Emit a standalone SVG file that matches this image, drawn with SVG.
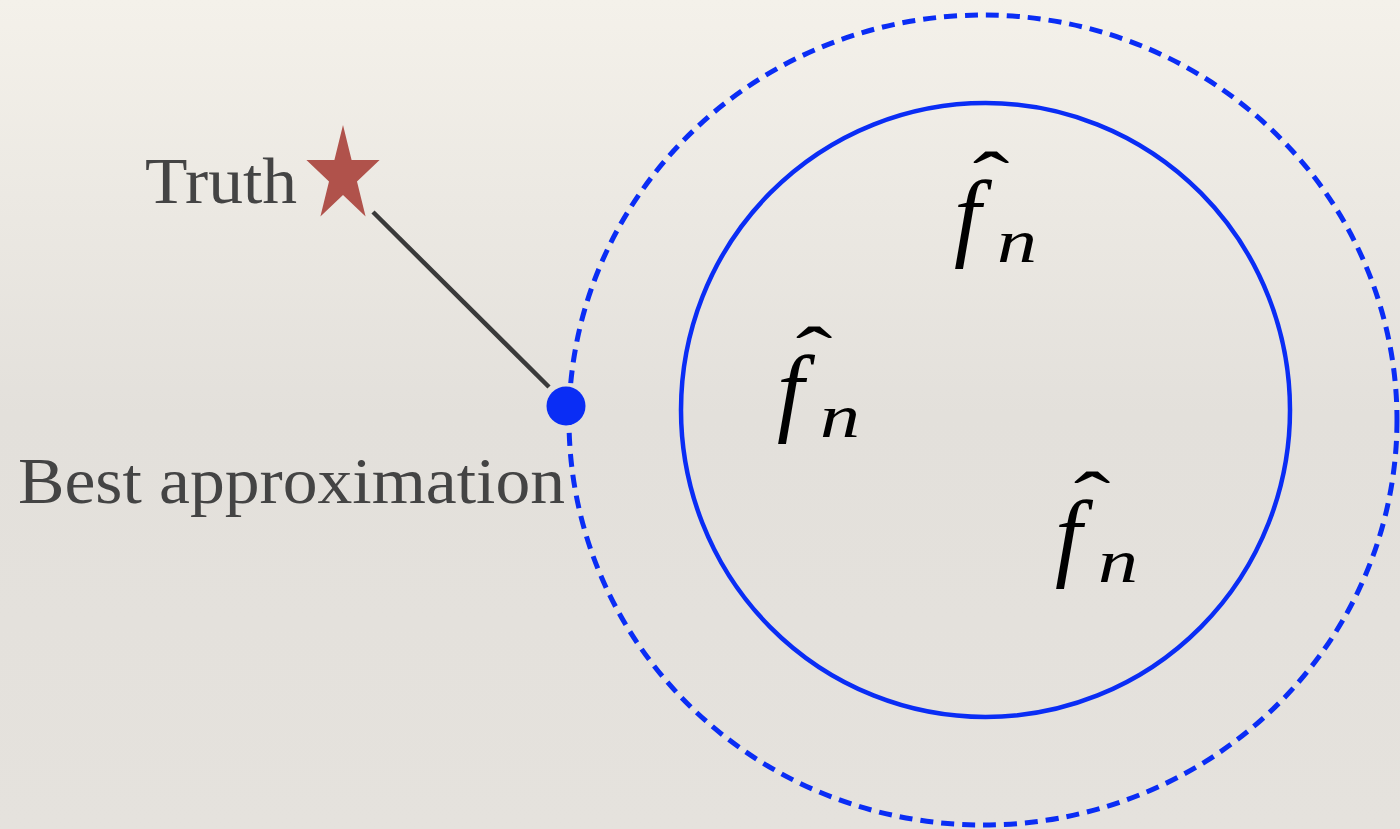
<svg xmlns="http://www.w3.org/2000/svg" width="1400" height="829" viewBox="0 0 1400 829">
<defs>
<linearGradient id="bg" x1="0" y1="0" x2="0" y2="1">
<stop offset="0" stop-color="#f4f1ea"/>
<stop offset="0.5" stop-color="#e3e0db"/>
<stop offset="1" stop-color="#e5e2dd"/>
</linearGradient>
<g id="fhat">
<text class="f" x="2" y="-14">f</text>
<text class="n" x="45" y="0" textLength="40" lengthAdjust="spacingAndGlyphs">n</text>
<text class="hat" transform="translate(39,-57) scale(1.45,1)">ˆ</text>
</g>
</defs>
<style>
.lbl{font-family:"Liberation Serif",serif;font-size:66px;fill:#444444}
.f{font-family:"Liberation Serif",serif;font-style:italic;font-size:97px;fill:#000}
.n{font-family:"Liberation Serif",serif;font-style:italic;font-size:62px;fill:#000}
.hat{font-family:"Liberation Serif",serif;font-size:76px;fill:#000;text-anchor:middle}
.ring{fill:none;stroke:#0a2df5}
</style>
<rect width="1400" height="829" fill="url(#bg)"/>
<g id="outer-set"><ellipse class="ring" cx="983" cy="420" rx="414" ry="405" stroke-width="5" stroke-dasharray="13 8"/></g>
<g id="inner-set"><ellipse class="ring" cx="985.5" cy="410" rx="304.5" ry="307" stroke-width="4.5"/></g>
<g id="connectors">
<line x1="373" y1="212" x2="549" y2="387" stroke="#3a3a3a" stroke-width="4.5"/>
</g>
<g id="truth">
<polygon points="343,125 351.6,160 379.6,160 357,181.6 365.6,216.5 343,195 320.4,216.5 329,181.6 306.4,160 334.4,160" fill="#b0524b"/>
<text class="lbl" x="145" y="203" textLength="152" lengthAdjust="spacingAndGlyphs">Truth</text>
</g>
<g id="best">
<circle cx="566" cy="406" r="19.5" fill="#0a2df5"/>
<text class="lbl" x="18" y="503" textLength="547" lengthAdjust="spacingAndGlyphs">Best approximation</text>
</g>
<g id="fhat1"><use href="#fhat" transform="translate(952,262)"/></g>
<g id="fhat2"><use href="#fhat" transform="translate(775,437)"/></g>
<g id="fhat3"><use href="#fhat" transform="translate(1053,582)"/></g>
</svg>
